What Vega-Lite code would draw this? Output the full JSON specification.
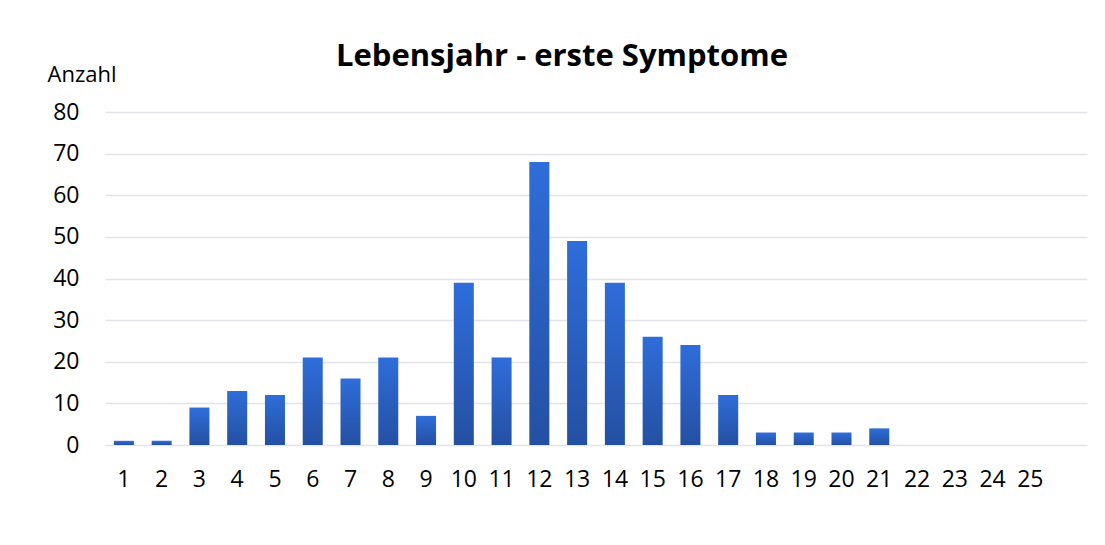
{
  "$schema": "https://vega.github.io/schema/vega-lite/v6.json",
  "width": 982,
  "height": 333,
  "autosize": "none",
  "padding": {"left": 105, "top": 112, "right": 18, "bottom": 100},
  "background": "white",
  "config": {
    "font": "Open Sans",
    "view": {"stroke": null}
  },
  "title": {
    "text": "Lebensjahr - erste Symptome",
    "font": "Open Sans",
    "fontSize": 31,
    "fontWeight": "bold",
    "color": "#000000",
    "frame": "group",
    "anchor": "middle",
    "baseline": "alphabetic",
    "offset": -34,
    "dx": -34
  },
  "data": {
    "values": [
      {"Jahr": "1", "Anzahl": 1},
      {"Jahr": "2", "Anzahl": 1},
      {"Jahr": "3", "Anzahl": 9},
      {"Jahr": "4", "Anzahl": 13},
      {"Jahr": "5", "Anzahl": 12},
      {"Jahr": "6", "Anzahl": 21},
      {"Jahr": "7", "Anzahl": 16},
      {"Jahr": "8", "Anzahl": 21},
      {"Jahr": "9", "Anzahl": 7},
      {"Jahr": "10", "Anzahl": 39},
      {"Jahr": "11", "Anzahl": 21},
      {"Jahr": "12", "Anzahl": 68},
      {"Jahr": "13", "Anzahl": 49},
      {"Jahr": "14", "Anzahl": 39},
      {"Jahr": "15", "Anzahl": 26},
      {"Jahr": "16", "Anzahl": 24},
      {"Jahr": "17", "Anzahl": 12},
      {"Jahr": "18", "Anzahl": 3},
      {"Jahr": "19", "Anzahl": 3},
      {"Jahr": "20", "Anzahl": 3},
      {"Jahr": "21", "Anzahl": 4},
      {"Jahr": "22", "Anzahl": 0},
      {"Jahr": "23", "Anzahl": 0},
      {"Jahr": "24", "Anzahl": 0},
      {"Jahr": "25", "Anzahl": 0}
    ]
  },
  "mark": {
    "type": "bar",
    "color": {
      "gradient": "linear",
      "x1": 0, "y1": 0, "x2": 0, "y2": 1,
      "stops": [
        {"offset": 0, "color": "#2F6DDA"},
        {"offset": 1, "color": "#2450A2"}
      ]
    }
  },
  "encoding": {
    "x": {
      "field": "Jahr",
      "type": "ordinal",
      "sort": null,
      "scale": {
        "domain": ["1","2","3","4","5","6","7","8","9","10","11","12","13","14","15","16","17","18","19","20","21","22","23","24","25","26"],
        "paddingInner": 0.47,
        "paddingOuter": 0.235
      },
      "axis": {
        "title": null,
        "labelAngle": 0,
        "labelFontSize": 23,
        "labelColor": "#000000",
        "labelPadding": 23,
        "labelExpr": "datum.label == '26' ? '' : datum.label",
        "ticks": false,
        "domain": false,
        "grid": false
      }
    },
    "y": {
      "field": "Anzahl",
      "type": "quantitative",
      "scale": {"domain": [0, 80], "nice": false},
      "axis": {
        "values": [0, 10, 20, 30, 40, 50, 60, 70, 80],
        "title": "Anzahl",
        "titleAngle": 0,
        "titleFontSize": 22,
        "titleFontWeight": "normal",
        "titleColor": "#000000",
        "titleAlign": "left",
        "titleBaseline": "alphabetic",
        "titleX": -58,
        "titleY": -31,
        "labelFontSize": 23,
        "labelColor": "#000000",
        "labelPadding": 26,
        "ticks": false,
        "domain": false,
        "grid": true,
        "gridColor": "#E1E4E9",
        "gridWidth": 1.5
      }
    }
  }
}
